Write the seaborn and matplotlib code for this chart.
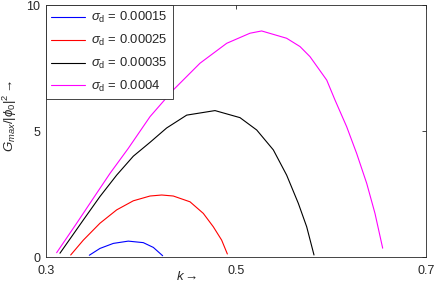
import numpy as np
import pandas as pd
import seaborn as sns
import matplotlib.pyplot as plt

# values
k_015 = [0.3456, 0.3568, 0.3709, 0.3866, 0.4024, 0.4130, 0.4228]
g_015 = [0.07, 0.34, 0.54, 0.63, 0.57, 0.38, 0.05]

k_025 = [0.3260, 0.3393, 0.3568, 0.3744, 0.3919, 0.4095, 0.4218, 0.4340, 0.4516,
         0.4656, 0.4761, 0.4849, 0.4909]
g_025 = [0.08, 0.67, 1.34, 1.87, 2.23, 2.42, 2.46, 2.42, 2.19, 1.73, 1.20, 0.67, 0.12]

k_035 = [0.3147, 0.3393, 0.3568, 0.3744, 0.3919, 0.4095, 0.4270, 0.4481, 0.4779,
         0.5042, 0.5218, 0.5393, 0.5533, 0.5656, 0.5744, 0.5821]
g_035 = [0.15, 1.47, 2.40, 3.25, 4.00, 4.55, 5.12, 5.63, 5.81, 5.53, 5.04, 4.25,
         3.25, 2.13, 1.20, 0.08]

k_040 = [0.3112, 0.3323, 0.3498, 0.3674, 0.3866, 0.4095, 0.4340, 0.4621, 0.4902,
         0.5147, 0.5270, 0.5533, 0.5674, 0.5779, 0.5955, 0.6042, 0.6165, 0.6270,
         0.6376, 0.6463, 0.6544]
g_040 = [0.17, 1.34, 2.33, 3.32, 4.31, 5.57, 6.63, 7.69, 8.48, 8.88, 8.97, 8.68,
         8.35, 7.95, 7.02, 6.23, 5.17, 4.11, 2.92, 1.73, 0.35]

labels = [r'$\sigma_{\rm d}$ = 0.00015', r'$\sigma_{\rm d}$ = 0.00025',
          r'$\sigma_{\rm d}$ = 0.00035', r'$\sigma_{\rm d}$ = 0.0004']
colors = ['#0000ff', '#ff0000', '#000000', '#ff00ff']

frames = []
for lab, k, g in zip(labels, [k_015, k_025, k_035, k_040], [g_015, g_025, g_035, g_040]):
    frames.append(pd.DataFrame({'k': k, 'G': g, 'sigma': lab}))
df = pd.concat(frames, ignore_index=True)

sns.set_style('white')
plt.rcParams['font.family'] = ['Liberation Sans', 'DejaVu Sans']
plt.rcParams['mathtext.fontset'] = 'custom'
plt.rcParams['mathtext.rm'] = 'Liberation Sans'
plt.rcParams['mathtext.it'] = 'Liberation Sans:italic'
plt.rcParams['font.size'] = 8.5

fig = plt.figure(figsize=(4.36, 2.88), dpi=100)
ax = fig.add_axes([46 / 436, 31 / 288, 380 / 436, 252 / 288])

sns.lineplot(data=df, x='k', y='G', hue='sigma', hue_order=labels,
             palette=colors, sort=False, estimator=None, linewidth=0.8, ax=ax)

ax.set_xlim(0.3, 0.7)
ax.set_ylim(0, 10)
ax.set_xticks([0.3, 0.5, 0.7])
ax.set_xticklabels(['0.3', '0.5', '0.7'])
ax.set_yticks([0, 5, 10])
ax.tick_params(direction='in', length=3, width=0.6, top=True, right=True,
               labelsize=9, colors='#262626')
ax.tick_params(axis='x', pad=6)
ax.tick_params(axis='y', pad=4)
for s in ax.spines.values():
    s.set_color('#262626')
    s.set_linewidth(0.6)

ax.set_xlabel(r'$k \rightarrow$', fontsize=9.5)
ax.xaxis.set_label_coords(0.37, -0.05)
ax.set_ylabel(r'$G_{max}/|\phi_0|^2 \rightarrow$', fontsize=9.5)
ax.yaxis.set_label_coords(-0.072, 0.56)

leg = ax.legend(loc='upper left', borderaxespad=0, frameon=True, fancybox=False,
                handlelength=2.6, handletextpad=0.45, labelspacing=0.6,
                borderpad=0.4, fontsize=9.4)
leg.get_frame().set_edgecolor('#262626')
leg.get_frame().set_linewidth(0.6)
leg.get_frame().set_alpha(1)
for line in leg.get_lines():
    line.set_linewidth(0.8)

fig.savefig('out.png', dpi=100)
